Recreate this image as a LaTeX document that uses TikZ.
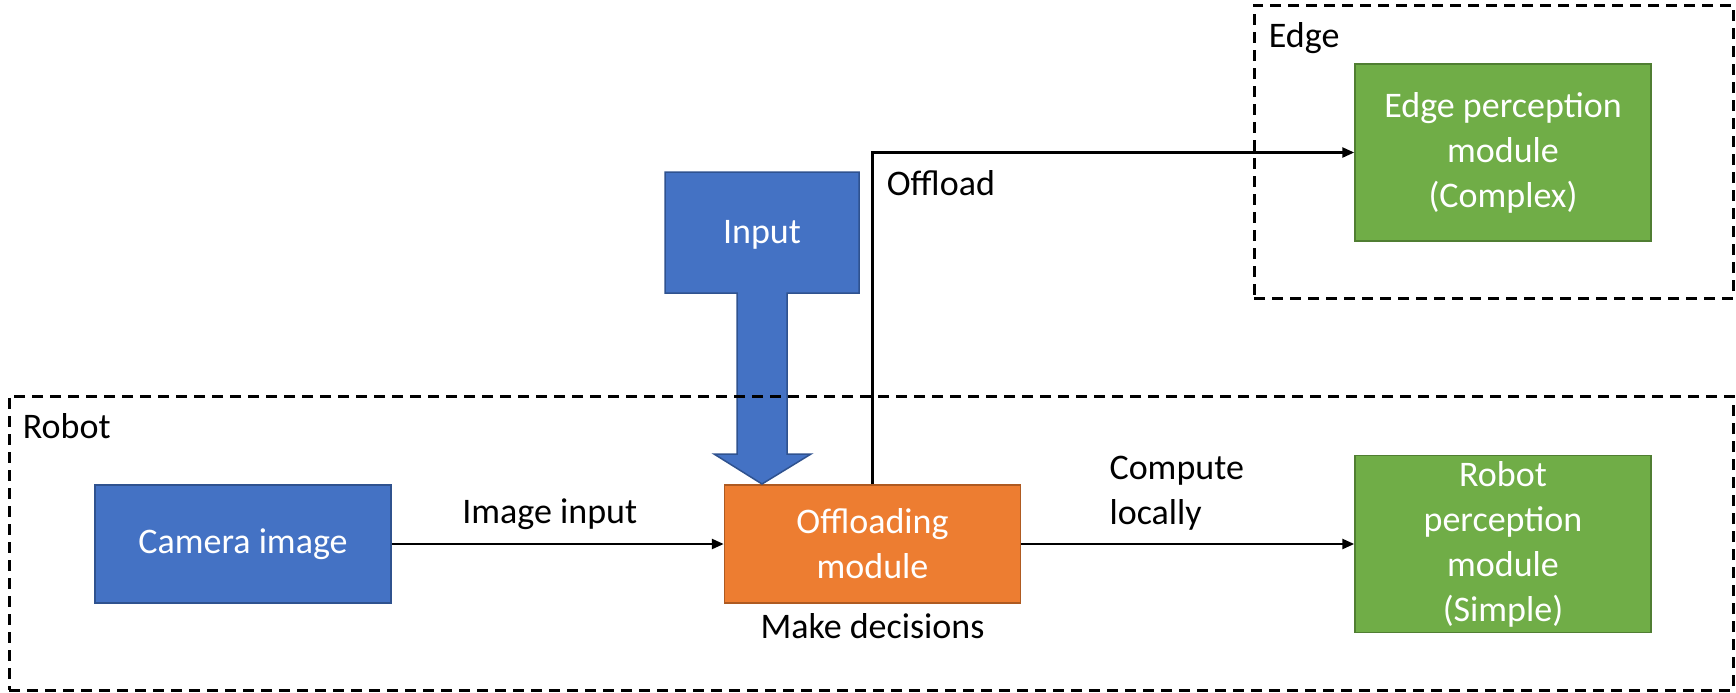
\documentclass[tikz,border=0pt]{standalone}
\usepackage{fontspec}
\setmainfont{Carlito}
\usetikzlibrary{arrows.meta,positioning}

\definecolor{bluefill}{HTML}{4472C4}
\definecolor{blueline}{HTML}{2F528F}
\definecolor{orangefill}{HTML}{ED7D31}
\definecolor{orangeline}{HTML}{AE5A21}
\definecolor{greenfill}{HTML}{70AD47}
\definecolor{greenline}{HTML}{507E32}

\begin{document}
\begin{tikzpicture}[
  x=0.5pt, y=-0.5pt,
  font=\fontsize{18}{22.5}\selectfont,
  blk/.style={draw,line width=0.75pt,align=center,text=white,minimum width=148pt,minimum height=59pt,inner sep=0pt},
  cam/.style={blk,fill=bluefill,draw=blueline},
  offl/.style={blk,fill=orangefill,draw=orangeline},
  perc/.style={blk,fill=greenfill,draw=greenline,minimum height=88.5pt},
  grp/.style={draw,line width=1.5pt,dash pattern=on 5.5pt off 3.5pt,inner sep=0pt},
  lbl/.style={inner sep=0pt},
  arr/.style={-{Triangle[length=6pt,width=5pt]},line width=1.25pt}
]
  \useasboundingbox (0,0) rectangle (1736,692);

  \node[cam] (camera) at (243,544) {Camera image};
  \node[offl,right=166pt of camera] (offload) {Offloading\\module};
  \node[perc,right=166.5pt of offload] (robotperc) {Robot\\perception\\module\\(Simple)};
  \node[perc,above=106.5pt of robotperc] (edgeperc) {Edge perception\\module\\(Complex)};

  % input callout arrow
  \draw[fill=bluefill,draw=blueline,line width=0.75pt]
    (665,172) -- (859,172) -- (859,293) -- (787,293) -- (787,454) -- (811,454)
    -- (762,484) -- (714,454) -- (737,454) -- (737,293) -- (665,293) -- cycle;
  \node[lbl,text=white] (inlbl) at (762,235) {Input};

  % robot and edge sides
  \node[grp,minimum width=862pt,minimum height=147pt] (robotgrp) at (871,543) {};
  \node[grp,minimum width=239.5pt,minimum height=146.5pt] (edgegrp) at (1493.5,151.5) {};
  \node[lbl,below right=9.5pt and 7.5pt of robotgrp.north west] (robotlbl) {Robot};
  \node[lbl,below right=9.5pt and 8pt of edgegrp.north west] (edgelbl) {Edge};

  \draw[arr] (camera) -- node[lbl,above=6.5pt,xshift=-4pt] {Image input} (offload);
  \draw[arr] (offload) -- node[lbl,above=6pt,xshift=-5.5pt,align=left] {Compute\\locally} (robotperc);
  \coordinate (bend) at (offload.north |- edgeperc.west);
  \draw[arr] (offload.north) -- (bend) -- (edgeperc.west);
  \node[lbl,below right=9pt and 7pt of bend] (offlbl) {Offload};

  \node[lbl,below=4.5pt of offload] (declbl) {Make decisions};
\end{tikzpicture}
\end{document}
